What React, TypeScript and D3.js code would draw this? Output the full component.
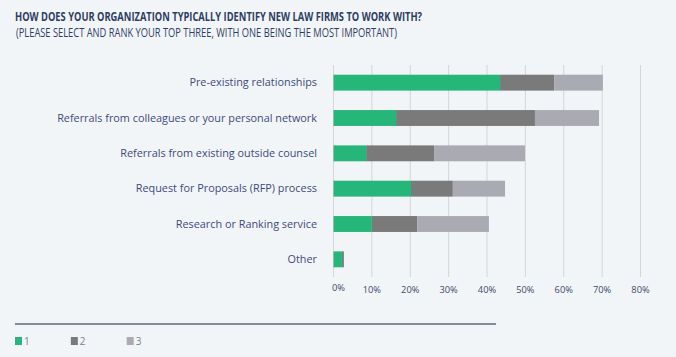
import React from "react";
import * as d3 from "d3";

const categories = [
  "Pre-existing relationships",
  "Referrals from colleagues or your personal network",
  "Referrals from existing outside counsel",
  "Request for Proposals (RFP) process",
  "Research or Ranking service",
  "Other",
];
const rank1 = [43.4, 16.3, 8.5, 20.2, 10.0, 2.2];
const rank2 = [14.1, 36.2, 17.7, 10.9, 11.8, 0.5];
const rank3 = [12.7, 16.7, 23.7, 13.6, 18.7, 0];
const seriesNames = ["1", "2", "3"];
const tickValues = [0, 10, 20, 30, 40, 50, 60, 70, 80];

const colors = ["#27b67a", "#7a7a7a", "#aaabb2"];
const W = 676;
const H = 357;
const FONT = "'Open Sans', sans-serif";

export default function App() {
  const x = d3.scaleLinear().domain([0, 80]).range([333.5, 640.5]);
  const y = d3.scaleBand<string>().domain(categories).range([65, 277]).paddingInner(0.55).paddingOuter(0.275);
  const rows = categories.map((c, i) => ({ cat: c, r1: rank1[i], r2: rank2[i], r3: rank3[i] }));
  const stack = d3.stack<any>().keys(["r1", "r2", "r3"])(rows);
  const legendX = d3.scalePoint<string>().domain(seriesNames).range([15, 126.7]);

  return (
    <div style={{ position: "absolute", left: 0, top: 0 }}>
      <svg width={W} height={H} style={{ display: "block", background: "#f1f5f7" }} fontFamily={FONT}>
        <rect x={0} y={0} width={W} height={H} fill="#f1f5f7" />
        <text x={15} y={21.3} fontSize={11.6} fontWeight={700} fill="#2f3d63" textLength={407} lengthAdjust="spacingAndGlyphs">
          HOW DOES YOUR ORGANIZATION TYPICALLY IDENTIFY NEW LAW FIRMS TO WORK WITH?
        </text>
        <text x={16} y={36.7} fontSize={11.7} fill="#2f3d63" textLength={381} lengthAdjust="spacingAndGlyphs">
          (PLEASE SELECT AND RANK YOUR TOP THREE, WITH ONE BEING THE MOST IMPORTANT)
        </text>
        {tickValues.map((t) => (
          <line key={t} x1={x(t)} x2={x(t)} y1={65} y2={277} stroke="#d3d6d9" strokeWidth={1} />
        ))}
        {stack.map((s, si) =>
          s.map((d, i) => (
            <rect
              key={si + "-" + i}
              x={x(d[0])}
              y={y(categories[i])}
              width={Math.max(0, x(d[1]) - x(d[0]))}
              height={y.bandwidth()}
              fill={colors[si]}
            />
          ))
        )}
        {categories.map((c) => (
          <text key={c} x={317} y={(y(c) as number) + y.bandwidth() / 2} dy="0.35em" textAnchor="end" fontSize={10.85} fill="#3e4a7c">
            {c}
          </text>
        ))}
        {tickValues.map((t) => (
          <text
            key={t}
            x={t === 0 ? x(t) - 1.5 : x(t)}
            y={t === 0 ? 291 : 292.5}
            textAnchor={t === 0 ? "start" : "middle"}
            fontSize={9.3}
            fill="#3e4a6c"
          >
            {t + "%"}
          </text>
        ))}
        <line x1={15} x2={496} y1={324} y2={324} stroke="#5d6680" strokeWidth={1.5} />
        {seriesNames.map((n, i) => (
          <g key={n}>
            <rect x={legendX(n)} y={337} width={7} height={8} fill={colors[i]} />
            <text x={(legendX(n) as number) + 9} y={344.5} fontSize={10} fill="#7a8090">
              {n}
            </text>
          </g>
        ))}
      </svg>
    </div>
  );
}
